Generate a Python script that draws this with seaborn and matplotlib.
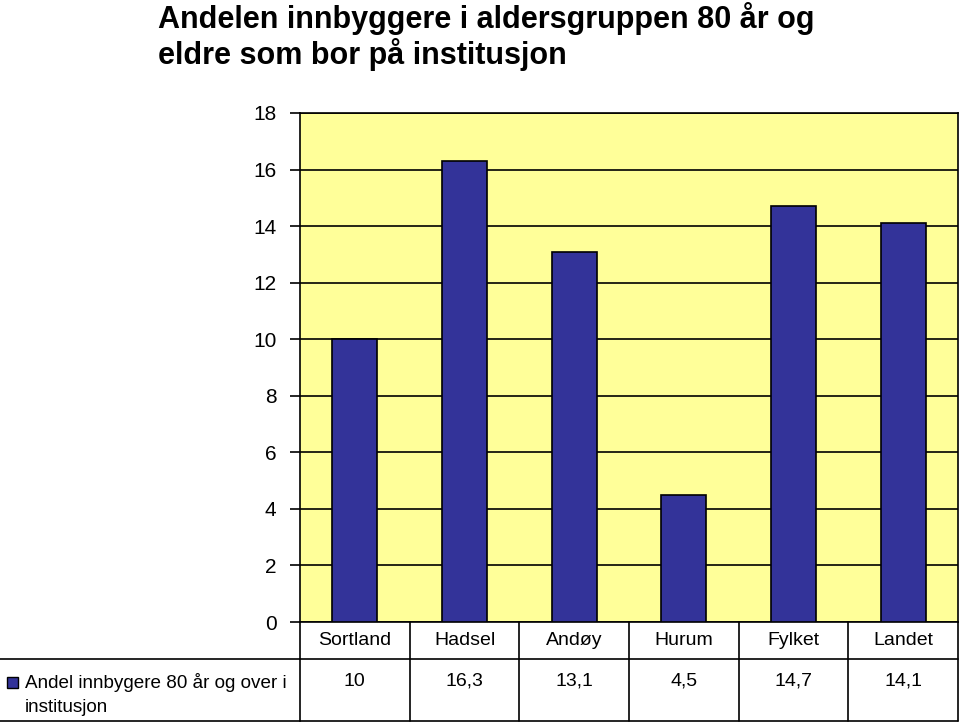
import matplotlib
matplotlib.use('Agg')
from matplotlib import pyplot as plt
import matplotlib.transforms as mtransforms
import seaborn as sns

# Data
categories = ['Sortland', 'Hadsel', 'Andøy', 'Hurum', 'Fylket', 'Landet']
values = [10, 16.3, 13.1, 4.5, 14.7, 14.1]
value_labels = ['10', '16,3', '13,1', '4,5', '14,7', '14,1']
series_label = 'Andel innbygere 80 år og over i\ninstitusjon'
title = 'Andelen innbyggere i aldersgruppen 80 år og\neldre som bor på institusjon'

bar_color = '#333399'
plot_bg = '#FFFF99'

sns.set_style('white')
plt.rcParams['font.family'] = ['Liberation Sans', 'DejaVu Sans']
plt.rcParams['text.color'] = 'black'

fig = plt.figure(figsize=(9.6, 7.24), dpi=100)
W, H = 960, 724
ax = fig.add_axes([300 / W, 1 - 622 / H, 658 / W, 509 / H])
ax.set_facecolor(plot_bg)

sns.barplot(x=categories, y=values, color=bar_color, saturation=1,
            edgecolor='black', linewidth=1.2, width=0.41, ax=ax, zorder=3)

ax.set_ylim(0, 18)
ax.set_xlim(-0.5, len(categories) - 0.5)
ax.set_yticks(range(0, 19, 2))
ax.yaxis.grid(True, color='black', linewidth=1.2, zorder=0)
ax.set_axisbelow(True)
ax.tick_params(axis='y', left=True, length=7, width=1.2, color='black',
               labelsize=15, pad=10, labelcolor='black')
ax.tick_params(axis='x', bottom=False, length=0, labelsize=14, pad=7,
               labelcolor='black')
ax.set_xlabel('')
ax.set_ylabel('')
for s in ax.spines.values():
    s.set_color('black')
    s.set_linewidth(1.2)

# Data table below the axes
trans = mtransforms.blended_transform_factory(ax.transData, ax.transAxes)
y_mid = -(659 - 622) / 509
y_bot = -(721 - 622) / 509
for i in range(len(categories) + 1):
    ax.plot([i - 0.5, i - 0.5], [0, y_bot], color='black', lw=1.2,
            transform=trans, clip_on=False)
for yy in (y_mid, y_bot):
    ax.plot([-0.5, len(categories) - 0.5], [yy, yy], color='black', lw=1.2,
            transform=trans, clip_on=False)
for i, lab in enumerate(value_labels):
    ax.text(i, -(673 - 622) / 509, lab, transform=trans, ha='center', va='top',
            fontsize=14)

# Row label column (figure pixel coordinates)
fig.add_artist(plt.Line2D([0, 300 / W], [1 - 659 / H, 1 - 659 / H],
                          color='black', lw=1.2))
fig.add_artist(plt.Line2D([0, 300 / W], [1 - 721 / H, 1 - 721 / H],
                          color='black', lw=1.2))
fig.add_artist(plt.Rectangle((7 / W, 1 - 688 / H), 11 / W, 11 / H,
                             facecolor=bar_color, edgecolor='black', lw=1))
fig.text(25 / W, 1 - 673 / H, series_label, ha='left', va='top', fontsize=13.6,
         linespacing=1.5)

fig.text(158 / W, 1 - 2 / H, title, ha='left', va='top', fontsize=22,
         fontweight='bold', linespacing=1.1)

plt.savefig('out.png', dpi=100)
plt.close()
